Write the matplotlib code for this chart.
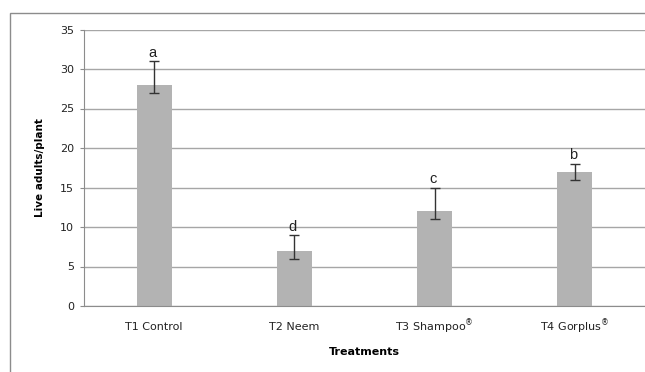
import matplotlib
matplotlib.use("Agg")
import matplotlib.pyplot as plt
from matplotlib.patches import Rectangle

# data
treatments = ["T1 Control", "T2 Neem", "T3 Shampoo$^{\u00ae}$", "T4 Gorplus$^{\u00ae}$"]
live_adults = [28, 7, 12, 17]
err_low = [1, 1, 1, 1]
err_high = [3, 2, 3, 1]
letters = ["a", "d", "c", "b"]

fig = plt.figure(figsize=(6.45, 3.72), dpi=100)
ax = fig.add_axes([84 / 645, 1 - 306 / 372, 561 / 645, 276.5 / 372])

x = list(range(len(treatments)))
ax.bar(x, live_adults, width=0.25, color="#b3b3b3", zorder=2)
ax.errorbar(x, live_adults, yerr=[err_low, err_high], fmt="none",
            ecolor="#333333", elinewidth=1, capsize=3.5, capthick=1, zorder=3)

for xi, v, hi, lab in zip(x, live_adults, err_high, letters):
    ax.annotate(lab, (xi, v + hi), xytext=(-1, 1), textcoords="offset points",
                ha="center", va="bottom", fontsize=10.5,
                family="Liberation Sans", color="#222222")

ax.set_xlim(-0.5, 3.5)
ax.set_ylim(0, 35)
ax.set_yticks(range(0, 36, 5))
ax.set_xticks(x)
ax.set_xticklabels(treatments)
for t in ax.get_xticklabels():
    t.set_verticalalignment("baseline")
ax.yaxis.grid(True, color="#a6a6a6", linewidth=1, zorder=0)
ax.set_axisbelow(True)

for s in ["top", "right"]:
    ax.spines[s].set_visible(False)
ax.spines["left"].set_color("#8c8c8c")
ax.spines["bottom"].set_color("#8c8c8c")
ax.tick_params(axis="y", length=3, color="#8c8c8c", labelsize=8, pad=4,
               labelcolor="#222222")
ax.tick_params(axis="x", length=0, labelsize=8, pad=17.5, labelcolor="#222222")

ax.set_xlabel("Treatments", fontsize=8, fontweight="bold", labelpad=8.5)
ax.set_ylabel("Live adults/plant", fontsize=7.5, fontweight="bold", labelpad=11)

# outer chart frame (cut off at right and bottom in the original)
fig.patches.append(Rectangle((10 / 645, -0.2), 2, 1.2 - 13 / 372,
                             transform=fig.transFigure, fill=False,
                             edgecolor="#8c8c8c", linewidth=1, clip_on=False))

fig.savefig("out.png", dpi=100)
